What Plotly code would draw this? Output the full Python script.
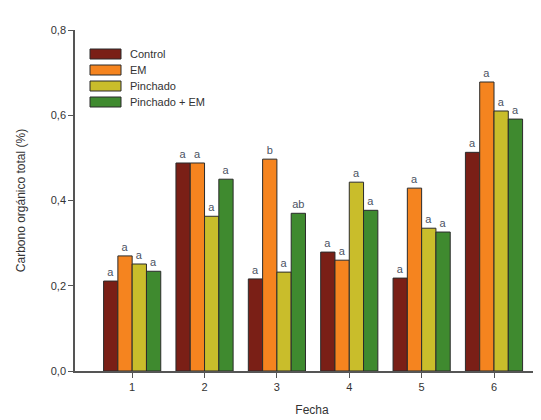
import plotly.graph_objects as go

fechas = [1, 2, 3, 4, 5, 6]
series_names = ["Control", "EM", "Pinchado", "Pinchado + EM"]
control = [0.211, 0.488, 0.216, 0.279, 0.218, 0.513]
em = [0.270, 0.488, 0.497, 0.260, 0.429, 0.678]
pinchado = [0.251, 0.363, 0.232, 0.443, 0.335, 0.610]
pinchado_em = [0.234, 0.450, 0.370, 0.377, 0.326, 0.591]
letters_control = ["a", "a", "a", "a", "a", "a"]
letters_em = ["a", "a", "b", "a", "a", "a"]
letters_pinchado = ["a", "a", "a", "a", "a", "a"]
letters_pinchado_em = ["a", "a", "ab", "a", "a", "a"]
y_ticks = [0.0, 0.2, 0.4, 0.6, 0.8]

colors = ["#7a1f16", "#f5841f", "#c9bd2b", "#3f8a2f"]
values = [control, em, pinchado, pinchado_em]
letters = [letters_control, letters_em, letters_pinchado, letters_pinchado_em]

W, H = 541, 420
ML, MR, MT, MB = 67, 0, 22, 57
PW, PH = W - ML - MR, H - MT - MB


def px_x(x):
    return (x - ML) / PW


def px_y(y):
    return (H - MB - y) / PH


fig = go.Figure()
for name, vals, lets, col in zip(series_names, values, letters, colors):
    fig.add_trace(go.Bar(
        x=fechas, y=vals, name=name, text=lets, showlegend=False,
        textposition="outside", cliponaxis=False,
        textfont=dict(family="Liberation Sans", size=11, color="#4b5263"),
        marker=dict(color=col, line=dict(color="#2b2b2b", width=1)),
    ))

# legend drawn manually (wide swatches, tight spacing as in the reference)
shapes, annotations = [], []
for i, (name, col) in enumerate(zip(series_names, colors)):
    cy = 46 + 16 * i
    shapes.append(dict(type="rect", xref="paper", yref="paper",
                       x0=px_x(82), x1=px_x(113), y0=px_y(cy + 5), y1=px_y(cy - 5),
                       fillcolor=col, line=dict(color="#2b2b2b", width=1)))
    annotations.append(dict(xref="paper", yref="paper", x=px_x(120), y=px_y(cy),
                            text=name, showarrow=False, xanchor="left", yanchor="middle",
                            font=dict(family="Liberation Sans", size=11, color="#333333")))

fig.update_layout(
    width=W, height=H,
    margin=dict(l=ML, r=MR, t=MT, b=MB),
    paper_bgcolor="white", plot_bgcolor="white",
    separators=",.",
    barmode="group", bargap=0.21, bargroupgap=0,
    font=dict(family="Liberation Sans", size=11, color="#333333"),
    showlegend=False,
    shapes=shapes, annotations=annotations,
    uniformtext=dict(minsize=10, mode="show"),
    xaxis=dict(range=[0.21, 6.76], tickmode="array", tickvals=fechas,
               ticktext=[str(f) for f in fechas], automargin=False,
               showline=True, linecolor="#555555", linewidth=1.5,
               ticks="outside", ticklen=5, tickcolor="#555555",
               showgrid=False, zeroline=False,
               title=dict(text="Fecha", font=dict(size=12), standoff=14)),
    yaxis=dict(range=[0, 0.8], tickvals=y_ticks, tickformat=".1f", automargin=False,
               showline=True, linecolor="#555555", linewidth=1.5,
               ticks="outside", ticklen=5, tickcolor="#555555",
               showgrid=False, zeroline=False,
               title=dict(text="Carbono orgánico total (%)", font=dict(size=12), standoff=23)),
)

fig.write_html("out.html")
